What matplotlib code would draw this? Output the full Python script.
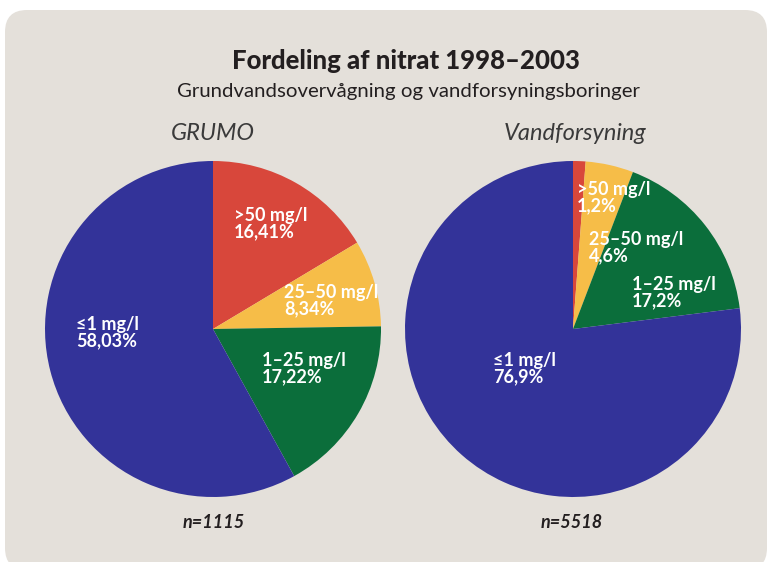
import matplotlib
matplotlib.use("Agg")
import matplotlib.pyplot as plt
from matplotlib.patches import FancyBboxPatch

# ---- data ----
categories = [">50 mg/l", "25–50 mg/l", "1–25 mg/l", "≤1 mg/l"]
grumo_values = [16.41, 8.34, 17.22, 58.03]
grumo_labels = ["16,41%", "8,34%", "17,22%", "58,03%"]
vand_values = [1.2, 4.6, 17.2, 76.9]
vand_labels = ["1,2%", "4,6%", "17,2%", "76,9%"]
pie_titles = ["GRUMO", "Vandforsyning"]
n_labels = ["n=1115", "n=5518"]
title = "Fordeling af nitrat 1998–2003"
subtitle = "Grundvandsovervågning og vandforsyningsboringer"

colors = ["#D8473B", "#F6BD48", "#0B6E3B", "#333399"]
bg = "#E4E0DA"

W, H = 769, 562
fig = plt.figure(figsize=(W / 100, H / 100), dpi=100)
fig.patch.set_facecolor("white")

# background panel (pixel coordinates)
bax = fig.add_axes([0, 0, 1, 1])
bax.set_xlim(0, W)
bax.set_ylim(H, 0)
bax.axis("off")
bax.add_patch(FancyBboxPatch((5 + 22, 10 + 22), 762 - 44, 560 - 44,
                             boxstyle="round,pad=22", fc=bg, ec="none"))

FONT = ["Lato", "DejaVu Sans"]

# pie geometry (pixels)
centers = [(213, 329), (573, 329)]
radius = 168
title_pos = [(213, 134), (575, 133)]
n_pos = [(214, 522), (572, 522)]

# label anchor positions (left x, top y of first line) in pixels
grumo_lpos = [(234, 207), (284, 284), (262, 352), (76, 316)]
vand_lpos = [(577, 181), (589, 231), (632, 276), (493, 352)]

for i, vals in enumerate([grumo_values, vand_values]):
    cx, cy = centers[i]
    ax = fig.add_axes([(cx - radius) / W, (H - cy - radius) / H,
                       2 * radius / W, 2 * radius / H])
    ax.pie(vals, colors=colors, startangle=90, counterclock=False,
           radius=1, wedgeprops=dict(linewidth=0))
    ax.set_xlim(-1, 1)
    ax.set_ylim(-1, 1)
    ax.set_aspect("auto")
    ax.axis("off")

# overlay for text
tax = fig.add_axes([0, 0, 1, 1])
tax.set_xlim(0, W)
tax.set_ylim(H, 0)
tax.axis("off")
tax.patch.set_alpha(0)

tax.text(406, 61, title, ha="center", va="center", fontsize=18.5,
         fontweight="black", family=FONT, color="#231f20")
tax.text(408, 91, subtitle, ha="center", va="center", fontsize=14.7,
         family=FONT, color="#231f20")

for i, (pcts, lpos) in enumerate([(grumo_labels, grumo_lpos),
                                  (vand_labels, vand_lpos)]):
    for cat, pct, (lx, ly) in zip(categories, pcts, lpos):
        tax.text(lx, ly, cat + "\n" + pct, ha="left", va="top", fontsize=13,
                 fontweight="bold", family=FONT, color="white",
                 linespacing=0.95)
    tax.text(*title_pos[i], pie_titles[i], ha="center", va="center",
             fontsize=17, fontstyle="italic", fontweight="normal",
             family=FONT, color="#3a3a3a")
    tax.text(*n_pos[i], n_labels[i], ha="center", va="center", fontsize=13,
             fontstyle="italic", fontweight="bold", family=FONT,
             color="#231f20")

fig.savefig("out.png", dpi=100, facecolor="white")
